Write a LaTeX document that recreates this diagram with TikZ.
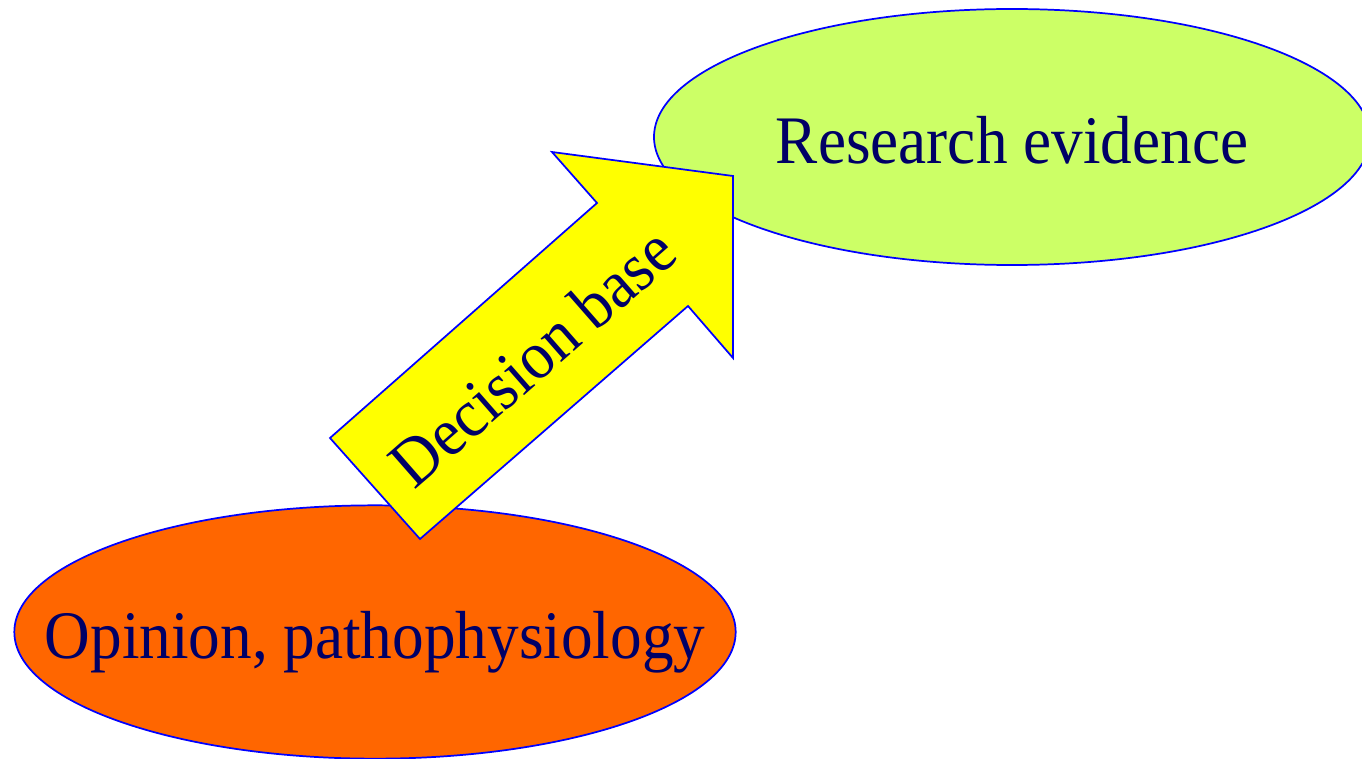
\documentclass[tikz,border=0pt]{standalone}
\usepackage{fontspec}
\setmainfont{Liberation Serif}
\newfontfamily\slidefont[FakeStretch=0.93]{Liberation Serif}
\usetikzlibrary{shapes.geometric}

\definecolor{evidencegreen}{HTML}{CCFF66}
\definecolor{opinionorange}{HTML}{FF6600}
\definecolor{arrowyellow}{HTML}{FFFF00}
\definecolor{labelnavy}{HTML}{000066}
\definecolor{outlineblue}{HTML}{0000FF}

\tikzset{
  bubble/.style={ellipse, draw=outlineblue, line width=1.3pt, inner sep=0pt},
  blockarrow/.style={draw=outlineblue, fill=arrowyellow, line width=1.3pt, line join=miter},
  slidetext/.style={inner sep=0pt, text=labelnavy, font=\slidefont\fontsize{51}{61}\selectfont, text depth=0pt}
}

\begin{document}
\begin{tikzpicture}[x=0.75pt,y=0.75pt,yscale=-1,xscale=1]
\useasboundingbox (0,0) rectangle (1362,759);

%Shape: Ellipse [research evidence]
\node[bubble, fill=evidencegreen, minimum width=537pt, minimum height=192pt] (evidence) at (1012,137) {};
%Shape: Ellipse [opinion]
\node[bubble, fill=opinionorange, minimum width=541pt, minimum height=190pt] (opinion) at (375,632) {};

%Shape: Block arrow
\draw[blockarrow] (330,438) -- (597,203) -- (552,152) -- (733,176) -- (733,358) -- (688,306) -- (420,539) -- cycle ;

% Text Node
\node[slidetext] (evidencetext) at ([yshift=2pt]evidence.center) {Research evidence};
% Text Node
\node[slidetext] (opiniontext) at ([yshift=2pt]opinion.center) {Opinion, pathophysiology};
% Text Node
\node[slidetext, rotate=41.2] (decision) at (532,357) {Decision base};

\end{tikzpicture}
\end{document}
